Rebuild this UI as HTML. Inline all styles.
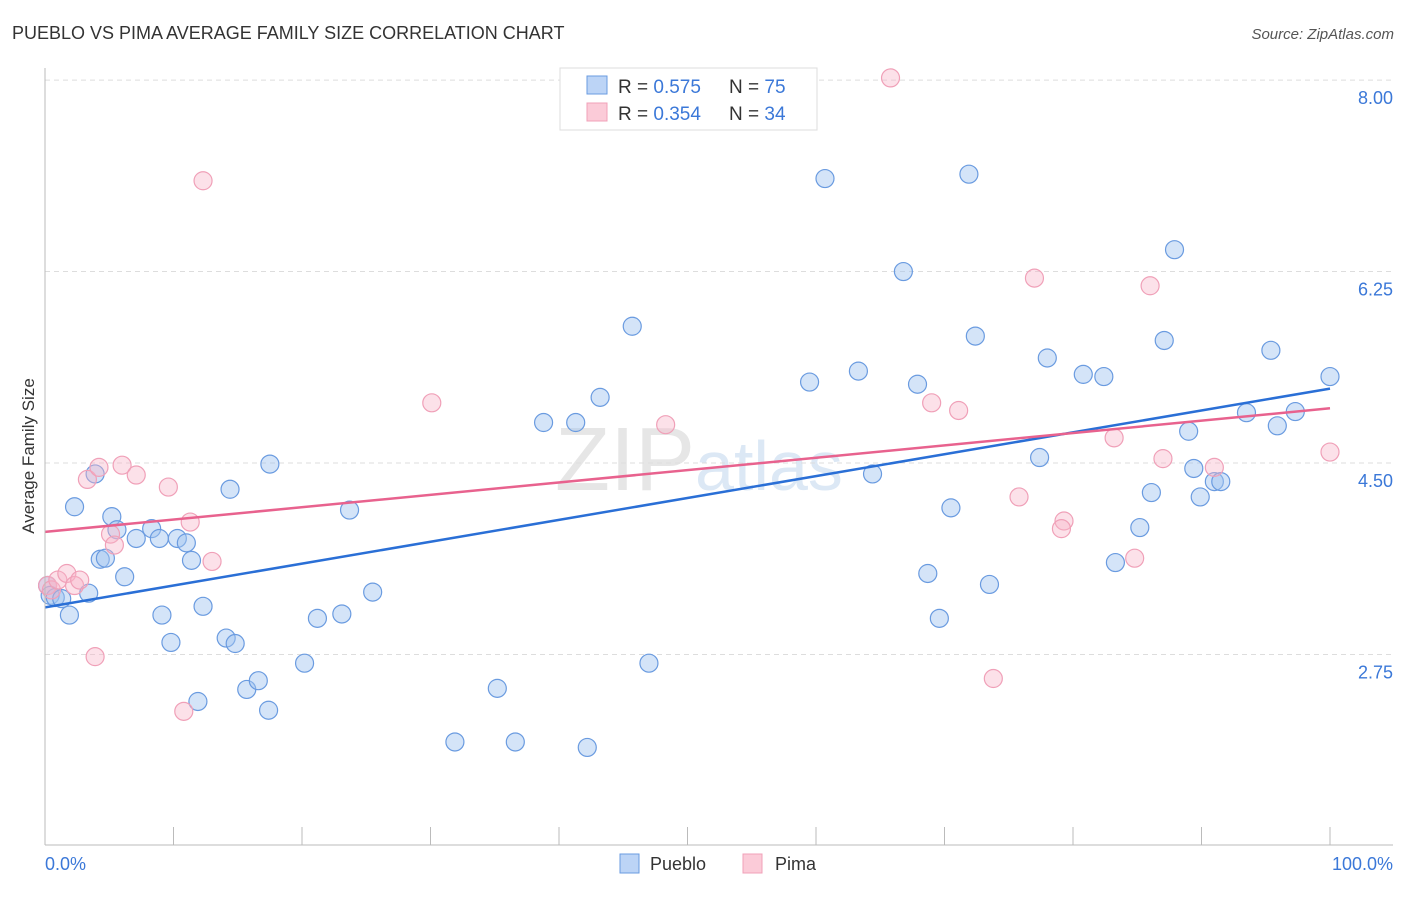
<!DOCTYPE html>
<html><head><meta charset="utf-8"><style>
body{margin:0;background:#fff;font-family:"Liberation Sans",sans-serif}
svg text{font-family:"Liberation Sans",sans-serif}
</style></head><body>
<svg id="c" width="1406" height="892">
<text x="12" y="39" font-size="18" fill="#333">PUEBLO VS PIMA AVERAGE FAMILY SIZE CORRELATION CHART</text>
<text x="1394" y="39" font-size="15" fill="#555" font-style="italic" text-anchor="end">Source: ZipAtlas.com</text>
<text x="34" y="456" font-size="17" fill="#333" text-anchor="middle" transform="rotate(-90 34 456)">Average Family Size</text>
<text x="555" y="490" font-size="90" fill="#e6e6e6" font-family="Liberation Serif">ZIP<tspan fill="#dce8f5" font-family="Liberation Sans" font-size="70">atlas</tspan></text>
<g id="grid"></g><g id="marks"></g>
<line x1="45" y1="68" x2="45" y2="845" stroke="#bbb"/>
<line x1="45" y1="845" x2="1393" y2="845" stroke="#bbb"/>
<text x="45" y="870" font-size="18" fill="#3b78d8">0.0%</text>
<text x="1393" y="870" font-size="18" fill="#3b78d8" text-anchor="end">100.0%</text>
<g>
<rect x="560" y="68" width="257" height="62" fill="#fff" stroke="#ddd"/>
<rect x="587" y="76" width="20" height="18" fill="#bcd4f6" stroke="#6a9be0"/>
<rect x="587" y="103" width="20" height="18" fill="#fbcbd8" stroke="#f0a0b8"/>
<text x="618" y="93" font-size="19" fill="#333">R = <tspan fill="#3b78d8">0.575</tspan></text>
<text x="729" y="93" font-size="19" fill="#333">N = <tspan fill="#3b78d8">75</tspan></text>
<text x="618" y="120" font-size="19" fill="#333">R = <tspan fill="#3b78d8">0.354</tspan></text>
<text x="729" y="120" font-size="19" fill="#333">N = <tspan fill="#3b78d8">34</tspan></text>
</g>
<g>
<rect x="620" y="854" width="19" height="19" fill="#bcd4f6" stroke="#6a9be0"/>
<text x="650" y="870" font-size="18" fill="#333">Pueblo</text>
<rect x="743" y="854" width="19" height="19" fill="#fbcbd8" stroke="#f0a0b8"/>
<text x="775" y="870" font-size="18" fill="#333">Pima</text>
</g>
</svg>
<script>
const yTicks=[2.75,4.50,6.25,8.00];
const xTicks=[0,10,20,30,40,50,60,70,80,90,100];
const blueX=[0.2,0.4,0.8,1.3,1.9,2.3,3.4,3.9,4.3,4.7,5.2,5.6,6.2,7.1,8.3,8.9,9.1,9.8,10.3,11.0,11.4,11.9,12.3,14.1,14.4,14.8,15.7,16.6,17.4,17.5,20.2,21.2,23.1,23.7,25.5,31.9,35.2,36.6,38.8,41.3,42.2,43.2,45.7,47.0,59.5,60.7,63.3,64.4,66.8,67.9,68.7,69.6,70.5,71.9,72.4,73.5,77.4,78.0,80.8,82.4,83.3,85.2,86.1,87.1,87.9,89.0,89.4,89.9,91.0,91.5,93.5,95.4,95.9,97.3,100.0];
const blueY=[3.38,3.29,3.27,3.26,3.11,4.10,3.31,4.40,3.62,3.63,4.01,3.89,3.46,3.81,3.90,3.81,3.11,2.86,3.81,3.77,3.61,2.32,3.19,2.90,4.26,2.85,2.43,2.51,2.24,4.49,2.67,3.08,3.12,4.07,3.32,1.95,2.44,1.95,4.87,4.87,1.90,5.10,5.75,2.67,5.24,7.10,5.34,4.40,6.25,5.22,3.49,3.08,4.09,7.14,5.66,3.39,4.55,5.46,5.31,5.29,3.59,3.91,4.23,5.62,6.45,4.79,4.45,4.19,4.33,4.33,4.96,5.53,4.84,4.97,5.29];
const pinkX=[0.2,0.5,1.0,1.7,2.3,2.7,3.3,3.9,4.2,5.1,5.4,6.0,7.1,9.6,10.8,11.3,12.3,13.0,30.1,48.3,65.8,69.0,71.1,73.8,75.8,77.0,79.3,79.1,83.2,84.8,86.0,87.0,91.0,100.0];
const pinkY=[3.38,3.34,3.43,3.49,3.38,3.43,4.35,2.73,4.46,3.85,3.75,4.48,4.39,4.28,2.23,3.96,7.08,3.60,5.05,4.85,8.02,5.05,4.98,2.53,4.19,6.19,3.97,3.90,4.73,3.63,6.12,4.54,4.46,4.60];
const blueTrend=[3.18,5.18];
const pinkTrend=[3.87,5.00];
const NS='http://www.w3.org/2000/svg';
const sx=p=>45+p*12.85;
const sy=v=>463-(v-4.5)*109.4;
function mk(t,a,parent){const e=document.createElementNS(NS,t);for(const k in a)e.setAttribute(k,a[k]);parent.appendChild(e);return e;}
const grid=document.getElementById('grid'),marks=document.getElementById('marks');
yTicks.forEach(v=>{
 const l=mk('line',{x1:45,x2:1393,y1:sy(v),y2:sy(v),stroke:'#ddd','stroke-dasharray':'5,4'},grid);
 
 
 const t=mk('text',{x:1393,y:sy(v)+24,'font-size':18,fill:'#3b78d8','text-anchor':'end'},grid);
 t.textContent=v.toFixed(2);
 
 
});
xTicks.forEach(p=>{
 const l=mk('line',{x1:sx(p),x2:sx(p),y1:827,y2:845,stroke:'#bbb'},grid);
 
 
});
function pts(X,Y,fill,stroke,name){
 X.forEach((x,i)=>{
  const c=mk('circle',{cx:sx(x),cy:sy(Y[i]),r:9,fill:fill,stroke:stroke,'stroke-width':1.2},marks);
  
  
 });
}
pts(blueX,blueY,'rgba(160,195,240,0.45)','#6a9be0','pueblo-point');
pts(pinkX,pinkY,'rgba(248,180,200,0.4)','#f0a0b8','pima-point');
const bl=mk('line',{x1:sx(0),y1:sy(blueTrend[0]),x2:sx(100),y2:sy(blueTrend[1]),stroke:'#2a6fd6','stroke-width':2.5},marks);


const pl=mk('line',{x1:sx(0),y1:sy(pinkTrend[0]),x2:sx(100),y2:sy(pinkTrend[1]),stroke:'#e8628e','stroke-width':2.5},marks);


</script>
</body></html>
